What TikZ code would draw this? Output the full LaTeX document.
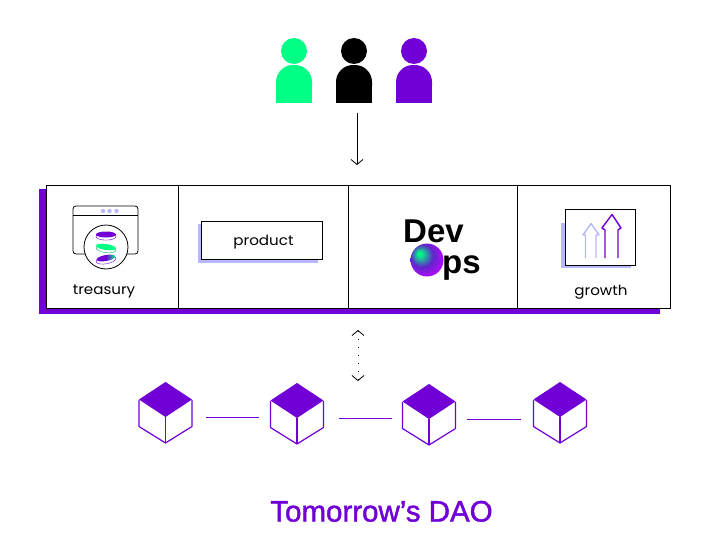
\documentclass[tikz,border=0pt]{standalone}
\usepackage{fontspec}
\setmainfont{Poppins}
\newfontfamily\labelfont[FakeStretch=1.08]{Poppins}
\newfontfamily\titlefont[FakeBold=1.5]{Liberation Sans}
\newfontfamily\logofont{Liberation Sans}
\usetikzlibrary{arrows.meta, shapes.geometric}
\definecolor{daopurple}{HTML}{7000D6}
\definecolor{daogreen}{HTML}{00FF85}
\definecolor{daolav}{HTML}{B8B8FF}
\definecolor{daomagenta}{HTML}{A40FF0}
\pgfdeclareradialshading{orb}{\pgfpoint{-12bp}{10bp}}{
    color(0bp)=(daogreen); color(4bp)=(daogreen!90!daopurple);
    color(17bp)=(daopurple!85!daogreen); color(28bp)=(daomagenta); color(50bp)=(daomagenta)}

\begin{document}
\begin{tikzpicture}[
    x=1pt, y=-1pt,
    cell/.style={rectangle, draw=black, fill=white, line width=0.9pt, minimum height=123pt, inner sep=0pt},
    label/.style={font=\labelfont\fontsize{14}{16}\selectfont, inner sep=0pt},
    logo/.style={font=\logofont\fontsize{33}{33}\selectfont\bfseries, anchor=base west, inner sep=0pt},
    head/.style={circle, minimum size=26pt, inner sep=0pt},
    arrow/.style={line width=0.8pt, {Straight Barb[length=5pt,width=12pt]}-{Straight Barb[length=5pt,width=12pt]}},
    link/.style={draw=daopurple, line width=1pt},
    cube/.style={rectangle, minimum width=53pt, minimum height=60pt, inner sep=0pt},
    coin/.style={draw=daopurple, line width=0.4pt}
]
\useasboundingbox (0,0) rectangle (724,538);

% --- users
\foreach \name/\cx/\col in {userA/294/daogreen, userB/354/black, userC/414/daopurple} {
    \node[head, fill=\col] (\name) at (\cx,51) {};
    \fill[\col, rounded corners=17pt] (\cx-18,102.5) -- (\cx-18,65) -- (\cx+18,65) -- (\cx+18,102.5) -- cycle;
    \fill[\col] (\cx-18,85) rectangle (\cx+18,102.5);
}

% --- platform
\fill[daopurple] (39,189) rectangle (660,314);
\node[cell, minimum width=132pt] (treasury) at (112,246.5) {};
\node[cell, minimum width=170pt] (product) at (263,246.5) {};
\node[cell, minimum width=169pt] (devops) at (432.5,246.5) {};
\node[cell, minimum width=153pt] (growth) at (593.5,246.5) {};

\coordinate (usersout) at (357,113);
\coordinate (boardin) at (357,165);
\draw[line width=0.8pt, -{Straight Barb[length=5pt,width=12pt]}] (usersout) -- (boardin);

% --- treasury icon
\draw[line width=0.8pt, rounded corners=3pt] (73,206) rectangle (138,254);
\draw[line width=0.8pt] (73,215) -- (138,215);
\foreach \dx in {103,109.5,116.5}
    \fill[daolav] (\dx,211) circle (2.2);
\node[circle, draw=black, fill=white, line width=0.8pt, minimum size=44pt, inner sep=0pt] (vault) at (106,247) {};
\draw[coin, fill=white] (106,236.5) ellipse (10 and 3.6);
\fill[daopurple] (106,234.5) ellipse (10 and 3);
\draw[coin, draw=daogreen!70!black, fill=white, rotate around={-8:(106,249)}] (106,249) ellipse (10 and 3.6);
\fill[daogreen, rotate around={-8:(106,247)}] (106,247) ellipse (10 and 3);
\draw[coin, fill=white, rotate around={10:(106,260)}] (106,260) ellipse (10 and 3.8);
\shade[left color=daopurple, right color=daogreen, middle color=daopurple, rotate around={10:(106,258)}] (106,258) ellipse (9.5 and 3);
\node[label] (treasurytext) at (104,292) {treasury};

% --- product
\fill[daolav] (198,224) rectangle (318,263);
\node[rectangle, draw=black, fill=white, line width=0.8pt, minimum width=121pt, minimum height=38pt, inner sep=0pt] (productbox) at (261.5,240) {};
\node[label] (producttext) at (263.5,242.5) {product};

% --- devops
\node[logo] (dev) at (403,242) {Dev};
\node[logo] (ps) at (442,273) {ps};
\shade[shading=orb] (427,260) circle (16.5);

% --- growth
\fill[daolav] (561,223) rectangle (631,268);
\node[rectangle, draw=black, fill=white, line width=0.8pt, minimum width=70pt, minimum height=56pt, inner sep=0pt] (chart) at (600,237) {};
\draw[daolav, line width=1.4pt, line join=round] (585.5,258) -- (585.5,235) -- (583,235) -- (591,223.5) -- (599,235) -- (596,235) -- (596,258);
\draw[daopurple, line width=1.4pt, line join=round] (605,258) -- (605,230) -- (602,228) -- (612,214.5) -- (621,228) -- (618,230) -- (618,258);
\node[label] (growthtext) at (601,292) {growth};

% --- double arrow
\coordinate (boardout) at (358,330);
\coordinate (chainin) at (358,381);
\draw[arrow, dash pattern=on 1.5pt off 6.5pt] (boardout) -- (chainin);

% --- blocks
\foreach \name/\cx/\cy in {blockA/165.5/417, blockB/297/418, blockC/429/419, blockD/560/417} {
    \node[cube] (\name) at (\cx,\cy) {};
    \draw[draw=daopurple, line width=1.2pt, line join=round] (\cx-26.5,\cy-17) -- (\cx-26.5,\cy+9.5) -- (\cx,\cy+26) -- (\cx+26.5,\cy+9.5) -- (\cx+26.5,\cy-17);
    \draw[draw=daopurple, line width=1.2pt] (\cx,\cy) -- (\cx,\cy+26);
    \fill[daopurple] (\cx,\cy-35) -- (\cx+26.5,\cy-17.5) -- (\cx,\cy) -- (\cx-26.5,\cy-17.5) -- cycle;
}
\draw[link, shorten <=14pt, shorten >=11.5pt] (blockA.east) -- (blockA.east -| blockB.west);
\draw[link, shorten <=15.5pt, shorten >=10.5pt] (blockB.east) -- (blockB.east -| blockC.west);
\draw[link, shorten <=11.5pt, shorten >=12.5pt] (blockC.east) -- (blockC.east -| blockD.west);

% --- title
\node[font=\titlefont\fontsize{29.5}{32}\selectfont, text=daopurple, anchor=base, inner sep=0pt] (title) at (381.5,521.5) {Tomorrow’s DAO};
\end{tikzpicture}
\end{document}
